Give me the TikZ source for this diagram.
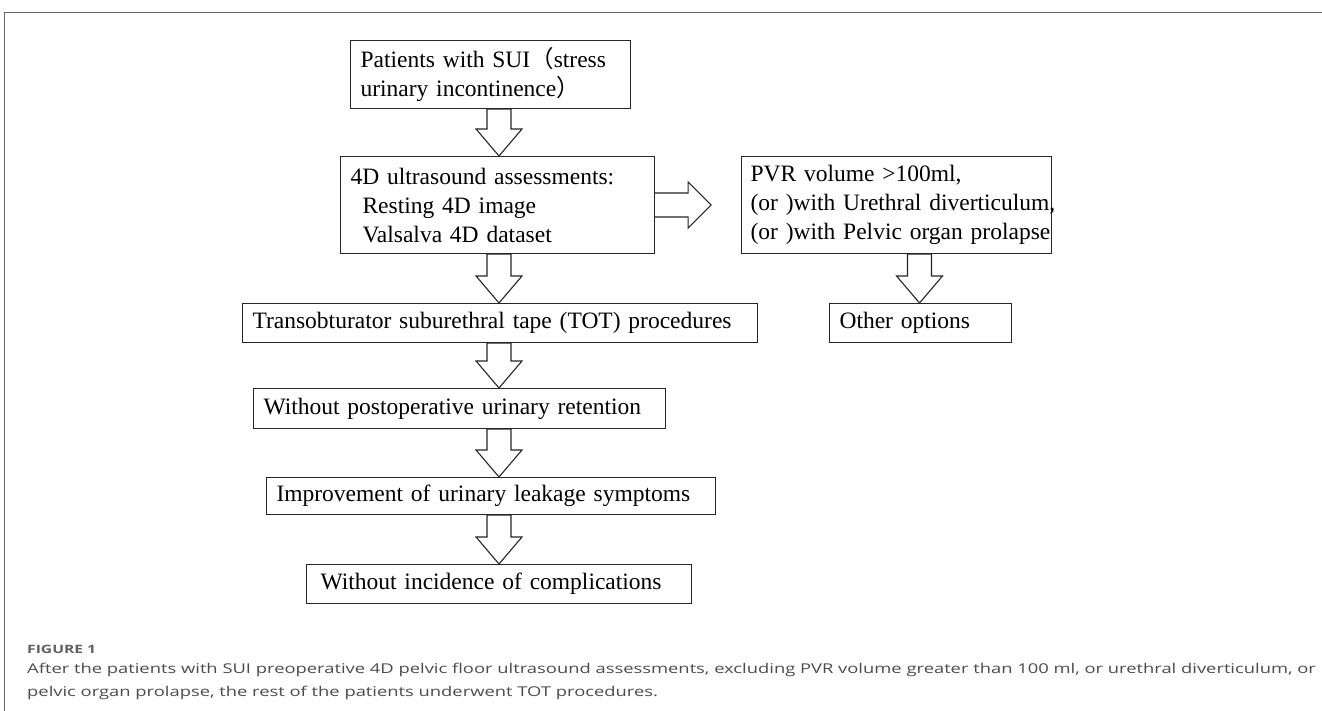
\documentclass[tikz,border=0pt]{standalone}
\usepackage{fontspec}
\setmainfont{Liberation Serif}
\newfontfamily\cjkparen{Noto Sans CJK SC}
\newfontfamily\capfont[FakeStretch=1.36]{Open Sans}
\usetikzlibrary{calc}
\newcommand\dnarrow[3]{\draw[barrow] let \p1=(#1.south), \p2=(#2.north) in
  ({#3pt-12pt},\y1) -- ({#3pt+12pt},\y1) -- ({#3pt+12pt},{\y2+27pt}) -- ({#3pt+23pt},{\y2+27pt})
  -- ({#3pt},\y2) -- ({#3pt-23pt},{\y2+27pt}) -- ({#3pt-12pt},{\y2+27pt}) -- cycle;}
\begin{document}
\begin{tikzpicture}[x=1pt,y=-1pt,
  box/.style={draw=black!85, line width=1.1pt, anchor=north west, inner xsep=10pt, inner ysep=0pt,
    align=left, font=\fontsize{23.5}{29}\selectfont},
  barrow/.style={draw=black!85, line width=1.1pt, fill=white, line join=miter},
  captxt/.style={anchor=base west, inner sep=0pt, text=black!70, font=\capfont\fontsize{13.5}{23}\selectfont}]
\useasboundingbox (0,0) rectangle (1322,711);
\fill[white] (0,0) rectangle (1322,711);
\draw[black!60, line width=1pt] (1322,13) -- (4,13) -- (4,711);

\node[box, text width=260pt, minimum height=68pt] (b1) at (350,40)
  {\mbox{Patients with SUI{\cjkparen （}stress}\\\mbox{urinary incontinence{\cjkparen ）}}};
\node[box, text width=294pt, minimum height=97pt] (b2) at (340,156)
  {\mbox{4D ultrasound assessments:}\\\mbox{\hspace*{12pt}Resting 4D image}\\\mbox{\hspace*{12pt}Valsalva 4D dataset}};
\node[box, text width=292pt, minimum height=97pt, inner xsep=9pt] (b3) at (741,156)
  {\mbox{PVR volume {>}100ml,}\\\mbox{(or )with Urethral diverticulum,}\\\mbox{(or )with Pelvic organ prolapse}};
\node[box, text width=162pt, minimum height=39pt] (b4) at (829,303) {\mbox{Other options}};
\node[box, text width=495pt, minimum height=39pt] (b5) at (242,303)
  {\mbox{Transobturator suburethral tape (TOT) procedures}};
\node[box, text width=392pt, minimum height=40pt] (b6) at (253,388)
  {\mbox{Without postoperative urinary retention}};
\node[box, text width=429pt, minimum height=37pt] (b7) at (266,477)
  {\mbox{Improvement of urinary leakage symptoms}};
\node[box, text width=365pt, minimum height=39pt] (b8) at (306,564)
  {\mbox{\hspace*{4pt}Without incidence of complications}};

\dnarrow{b1}{b2}{499}
\dnarrow{b2}{b5}{499}
\dnarrow{b5}{b6}{499}
\dnarrow{b6}{b7}{499}
\dnarrow{b7}{b8}{499}
\dnarrow{b3}{b4}{919.5}
\draw[barrow] let \p1=(b2.east) in
  (\x1,{\y1+12pt}) -- ({\x1+33pt},{\y1+12pt}) -- ({\x1+33pt},{\y1+23pt}) -- ({\x1+56pt},\y1)
  -- ({\x1+33pt},{\y1-23pt}) -- ({\x1+33pt},{\y1-12pt}) -- (\x1,{\y1-12pt});

\node[anchor=base west, inner sep=0pt, text=black!62, font=\capfont\bfseries\fontsize{11.5}{13}\selectfont] (fig) at (27,653) {FIGURE 1};
\node[captxt] (cap1) at (27,673) {After the patients with SUI preoperative 4D pelvic floor ultrasound assessments, excluding PVR volume greater than 100 ml, or urethral diverticulum, or};
\node[captxt] (cap2) at (27,696) {pelvic organ prolapse, the rest of the patients underwent TOT procedures.};
\end{tikzpicture}
\end{document}
